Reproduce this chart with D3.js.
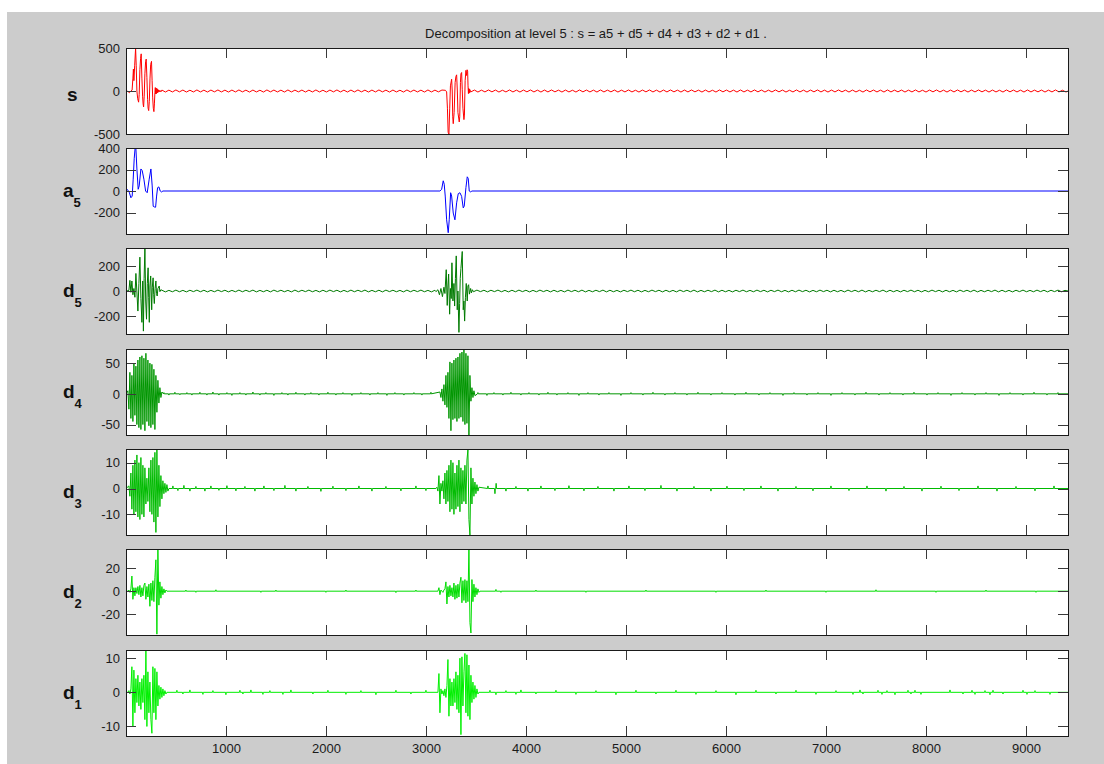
<html>
<head>
<meta charset="utf-8">
<script src="https://d3js.org/d3.v7.min.js"></script>
<style>
body { margin: 0; background: white; }
text { font-family: "Liberation Sans", Arial, sans-serif; }
</style>
</head>
<body>
<svg id="svg"></svg>
<script>

// ---- data (sample index, value) ----
var xMax = 9420;
var xTicks = [1000, 2000, 3000, 4000, 5000, 6000, 7000, 8000, 9000];

// s
var sBurst1 = [[1,0],[20,-5],[35,-20],[50,0],[62,10],[70,150],[75,255],[80,120],[88,300],[97,500],[103,300],[110,0],[118,-90],[127,-130],[133,-40],[140,250],[147,380],[153,432],[160,150],[167,-60],[172,-150],[177,-185],[183,-60],[190,200],[197,340],[203,371],[210,160],[217,-100],[222,-200],[228,-228],[234,-120],[241,150],[248,310],[256,345],[262,120],[268,-80],[274,-200],[280,-240],[285,-150],[290,-20],[294,40],[298,-35],[302,35],[306,-30],[310,28],[314,-22],[318,20],[322,-15],[327,12],[333,-10],[340,8],[350,-10]];
var sRipple1 = [11,-12,10,-11,12,-10,11,-12,9,-11,12,-11,10,-12,11,-10,12,-11,10,-12,
  11,-11,12,-10,10,-12,11,-11,9,-12,12,-10,11,-11,10,-12,12,-11,10,-10,
  11,-12,10,-11,12,-11,9,-12,11,-10,12,-11,10,-12,11,-11,12,-10,10,-12,
  11,-11,12,-10,10,-12,11,-11,9,-12,12,-10,11,-11,10,-12,12,-11,10,-10,
  11];
var sBurst2 = [[3195,8],[3207,-10],[3215,-200],[3222,-480],[3230,-500],[3238,-200],[3245,60],[3257,137],[3263,0],[3268,-300],[3273,-380],[3282,-250],[3292,100],[3300,170],[3307,188],[3314,0],[3320,-250],[3333,-360],[3338,-300],[3345,100],[3350,200],[3357,215],[3363,20],[3370,-200],[3380,-333],[3385,-280],[3392,120],[3400,240],[3407,180],[3412,247],[3417,230],[3421,60],[3425,-30],[3428,30],[3431,-25],[3434,22],[3437,-18],[3440,15],[3445,-10]];
var sRipple2 = [-10,11,-12,10,-11,12,-10,11,-12,9,-11,12,-11,10,-12,11,-10,12,-11,10,
  -12,11,-11,12,-10,10,-12,11,-11,9,-12,12,-10,11,-11,10,-12,12,-11,10,
  -10,11,-12,10,-11,12,-11,9,-12,11,-10,12,-11,10,-12,11,-11,12,-10,10,
  -12,11,-11,12,-10,10,-12,11,-11,9,-12,12,-10,11,-11,10,-12,12,-11,10,
  -11,12,-10,11,-12,10,-11,12,-10,11,-12,9,-11,12,-11,10,-12,11,-10,12,
  -11,10,-12,11,-11,12,-10,10,-12,11,-11,9,-12,12,-10,11,-11,10,-12,12,
  -11,10,-10,11,-12,10,-11,12,-11,9,-12,11,-10,12,-11,10,-12,11,-11,12,
  -10,10,-12,11,-11,12,-10,10,-12,11,-11,9,-12,12,-10,11,-11,10,-12,12,
  -11,10,-10,11,-12,10,-11,12,-11,9,-12];

// a5
var a5Burst1 = [[1,0],[13,15],[33,-10],[50,-63],[63,-47],[73,110],[83,300],[93,410],[100,395],[110,205],[123,16],[133,47],[150,205],[163,190],[180,110],[197,0],[213,-16],[233,110],[250,205],[263,47],[273,-142],[283,-148],[297,-151],[307,-47],[317,31],[330,38],[343,0],[357,-9],[370,0]];
var a5Burst2 = [[3140,0],[3157,15],[3173,95],[3183,63],[3193,-47],[3207,-268],[3223,-388],[3233,-268],[3247,-16],[3257,-47],[3273,-205],[3290,-268],[3307,-110],[3323,-25],[3340,-16],[3357,-50],[3373,-157],[3383,-140],[3400,31],[3413,132],[3423,117],[3433,0],[3447,-10],[3457,0],[9420,0]];

// d5
var d5Burst1 = [[1,0],[10,0],[30,5],[40,85],[50,-10],[60,80],[70,-30],[80,20],[90,-50],[100,140],[112,-40],[120,-160],[130,60],[140,270],[150,-60],[160,-250],[168,80],[175,-320],[182,100],[190,340],[198,-80],[206,-225],[214,60],[222,185],[228,-50],[234,-250],[240,40],[248,120],[254,-40],[258,-150],[264,30],[272,105],[278,-30],[284,-100],[292,20],[300,80],[306,-20],[313,-40],[320,20],[333,40],[340,-5],[350,10]];
var d5Ripple1 = [6,-7,5,-6,7,-6,5,-7,6,-5,7,-6,6,-7,5,-6,7,-5,6,-7,
  5,-6,7,-6,6,-5,7,-7,5,-6,6,-7,7,-5,6,-6,5,-7,7,-6,
  6,-5,7,-6,5,-7,6,-6,7,-5,6,-7,5,-6,7,-6,6,-5,7,-7,
  5,-6,6,-7,7,-5,6,-6,5,-7,7,-6,6,-5,7,-6,5,-7,6];
var d5Burst2 = [[3100,-5],[3120,10],[3135,-30],[3150,20],[3165,-45],[3180,30],[3190,-20],[3203,170],[3213,-115],[3220,40],[3227,135],[3237,-185],[3245,20],[3253,-60],[3260,225],[3270,-80],[3280,60],[3287,-120],[3295,100],[3303,280],[3313,-150],[3320,0],[3330,-330],[3337,-100],[3343,100],[3350,180],[3363,315],[3373,-150],[3380,-80],[3387,-240],[3395,-50],[3403,60],[3413,-80],[3420,40],[3427,50],[3435,-25],[3447,20],[3455,-15],[3465,10]];
var d5Ripple2 = [-6,7,-5,6,-7,6,-5,7,-6,5,-7,6,-6,7,-5,6,-7,5,-6,7,
  -5,6,-7,6,-6,5,-7,7,-5,6,-6,7,-7,5,-6,6,-5,7,-7,6,
  -6,5,-7,6,-5,7,-6,6,-7,5,-6,7,-5,6,-7,6,-6,5,-7,7,
  -5,6,-6,7,-7,5,-6,6,-5,7,-7,6,-6,5,-7,6,-5,7,-6,5,
  -6,7,-5,6,-7,6,-5,7,-6,5,-7,6,-6,7,-5,6,-7,5,-6,7,
  -5,6,-7,6,-6,5,-7,7,-5,6,-6,7,-7,5,-6,6,-5,7,-7,6,
  -6,5,-7,6,-5,7,-6,6,-7,5,-6,7,-5,6,-7,6,-6,5,-7,7,
  -5,6,-6,7,-7,5,-6,6,-5,7,-7,6,-6,5,-7,6,-5,7,-6,5,
  -6,7,-5,6,-7,6,-5,7,-6,5];

// d4 (values every 10 samples inside the bursts)
var d4Burst1 = [5,-25,35,-40,30,-45,50,-35,45,-50,55,-55,60,-58,62,-50,58,-60,66,-45,
  55,-52,50,-55,48,-50,40,-58,30,-30,22,-15,10,-6,3];
var d4Burst2 = [3,-6,8,-12,15,-18,30,-22,35,-40,52,-60,50,-42,55,-40,58,-45,60,-40,
  66,-38,68,-45,73,-50,66,-48,62,-67,30,-12,10,-6,5,-3];
var d4Blips = [[380,2],[430,-2],[490,2.5],[540,-1.5],[610,2],[660,-2],[740,2.5],[810,-2],[870,3],[930,-2],[1010,2],[1060,-2.5],[1140,2],[1200,-2],[1270,3],[1340,-2],[1400,2],[1480,-2.5],[1560,2],[1620,-2],[1700,2.5],[1790,-2],[1850,2],[1930,-2],[2020,2.5],[2100,-2],[2170,2],[2260,-2.5],[2350,2],[2440,-2],[2520,2],[2610,-2.5],[2690,2],[2780,-2],[2880,2],[2960,-2],[3050,2.5],
  [3520,2],[3610,-2.5],[3680,2],[3770,-2],[3850,2.5],[3950,-2],[4030,2],[4130,-2],[4220,2.5],[4310,-2],[4420,2],[4530,-2.5],[4620,2],[4730,-2],[4830,2],[4950,-2.5],[5050,2],[5170,-2],[5270,2.5],[5390,-2],[5490,2],[5610,-2],[5720,2.5],[5850,-2],[5960,2],[6090,-2],[6200,2.5],[6330,-2],[6440,2],[6570,-2.5],[6680,2],[6810,-2],[6920,2],[7050,-2.5],[7160,2],[7290,-2],[7400,2.5],[7530,-2],[7640,2],[7770,-2],[7880,2.5],[8010,-2],[8120,2],[8250,-2.5],[8360,2],[8490,-2],[8600,2],[8730,-2.5],[8840,2],[8970,-2],[9080,2.5],[9210,-2],[9320,2]];

// d3
var d3Burst1 = [1,-3,6,-8,9,-10,11,-9,13,-11,10,-12,12,-10,9,-11,8,-6,4,-5,
  8,-9,11,-10,12,-13,14,-17,15,-11,9,-7,5,-4,3,-2,2,-1.5,1.5,-1,0];
var d3Burst2 = [0,0.5,-1,5,-6,2,-1,3,-4,6,-6,7,-5,9,-9,11,-8,10,-10,6,
  -8,9,-7,11,-9,8,-6,7,-5,9,-6,11,15,-12,-18,8,-6,4,-3,2.5,-2,1.5,-1,0.5];
var d3Blips = [[470,1],[520,-0.8],[580,1.2],[640,-1],[700,0.8],[790,-1],[850,1],[930,-0.7],[1010,1.1],[1100,-0.9],[1190,0.8],[1290,-1],[1380,1],[1480,-0.8],[1590,1.2],[1700,-1],[1820,0.8],[1950,-1.1],[2070,0.9],[2200,-0.8],[2330,1],[2460,-1],[2600,0.8],[2750,-0.9],[2900,1],[3000,-0.8],
  [3620,1],[3690,-2],[3702,2],[3800,-1],[3900,0.8],[4020,-1],[4150,1],[4290,-0.8],[4430,1.1],[4580,-0.9],[4720,0.8],[4880,-1],[5030,1],[5190,-0.8],[5350,1.2],[5510,-1],[5680,0.8],[5850,-1],[6010,0.9],[6180,-0.8],[6350,1],[6520,-1],[6700,0.8],[6870,-0.9],[7050,1],[7230,-0.8],[7410,1],[7600,-1],[7780,0.8],[7960,-1],[8150,0.9],[8330,-0.8],[8520,1],[8710,-1],[8900,0.8],[9090,-0.9],[9280,1]];

// d2
var d2Burst1 = [0,1,-1,2,13,-7,3,-4,3,-2,4,-3,5,-5,3,-4,5,7,-7,4,
  -5,6,-13,7,-8,9,-9,12,27,-37,37,-12,8,-6,4,-3,2,-1.5,1,0];
var d2Burst2 = [0,3,-3,1,0,-1,1,2,8,-11,4,-5,5,-4,3,-5,7,-7,5,-6,
  6,-5,7,12,-10,9,-8,10,-10,9,-9,37,-27,-36,10,-9,6,-5,3,-3,2,-1,0];
var d2Blips = [[600,1],[700,-1],[900,1.2],[1350,-1],[1500,1],[2000,-1],[2200,1],[2700,-1.2],[2900,1],[3700,1.5],[3750,-1],[4100,1],[4600,-1],[5200,1],[5900,-1],[6400,1],[7000,-1],[7500,1.2],[8100,-1],[8600,1],[9100,-1]];

// d1
var d1Burst1 = [0,0.5,-0.5,1,7.5,-10,6.5,-6,4,-3,5,-4,3,-5,4,-3,5,-8,12.3,-10,
  6,-6,3,-8,-12,7.5,-6,7,-8,6,-4,2,-2,1.5,-1.5,1,-1,0.5,-0.5,0];
var d1Burst2 = [0,5.5,-6,1,-0.5,0.5,-1,1,-1.5,2,9.6,-7,4,-4,3,-4,4,-3,6,-5,
  5,-6,10,-12.4,10.4,-4,6,11.4,-6,11,-7,8,-8,5,-3,3,-2,2,-1.5,1,-0.5,0];
var d1Blips = [[510,0.6],[570,-0.5],[640,0.7],[770,-0.6],[870,0.5],[1000,-0.7],[1140,0.6],[1170,-0.5],[1250,0.7],[1370,-0.6],[1440,0.5],[1570,-0.6],[1650,0.7],[1870,-0.5],[2020,0.6],[2200,-0.6],[2350,0.5],[2500,-0.7],[2700,0.6],[2850,-0.5],[3000,0.6],
  [3640,0.6],[3700,-0.7],[3800,0.5],[3900,-0.6],[3950,0.7],[4100,-0.5],[4300,0.6],[4500,-0.6],[4700,0.5],[4900,-0.7],[5100,0.6],[5300,-0.5],[5500,0.6],[5700,-0.6],[5900,0.5],[6100,-0.7],[6300,0.6],[6500,-0.5],[6700,0.6],[6900,-0.6],[7100,0.5],[7270,-0.6],[7340,0.7],[7370,-0.5],[7520,0.6],[7560,-0.6],[7610,0.5],[7690,-0.7],[7820,0.6],[7850,-0.5],[7890,0.6],[7950,-0.6],[8240,0.7],[8370,-0.5],[8460,0.6],[8490,-0.6],[8590,0.5],[8640,-0.7],[8670,0.6],[8770,-0.5],[8970,0.6],[9010,-0.6],[9090,0.5],[9240,-0.6]];

// ---- helpers to turn the lists into (x,y) points ----
function seq(start, step, vals) { return vals.map(function(v, i) { return [start + i * step, v]; }); }
function blips(list) {
	var out = [];
	list.forEach(function(b) { out.push([b[0] - 4, 0], [b[0], b[1]], [b[0] + 4, 0]); });
	return out;
}
function series(parts) {
	var pts = [].concat.apply([], parts);
	pts.sort(function(a, b) { return a[0] - b[0]; });
	return pts;
}

var panels = [
	{name: "s", sub: "", color: "#ff0000", dom: [-500, 500], ticks: [-500, 0, 500],
	 data: series([sBurst1, seq(360, 35, sRipple1), sBurst2, seq(3450, 35, sRipple2), [[xMax, 0]]])},
	{name: "a", sub: "5", color: "#0000ff", dom: [-400, 400], ticks: [-200, 0, 200, 400],
	 data: series([a5Burst1, a5Burst2])},
	{name: "d", sub: "5", color: "#007a00", dom: [-343, 343], ticks: [-200, 0, 200],
	 data: series([d5Burst1, seq(360, 35, d5Ripple1), d5Burst2, seq(3475, 35, d5Ripple2), [[xMax, 0]]])},
	{name: "d", sub: "4", color: "#009600", dom: [-67, 73], ticks: [-50, 0, 50],
	 data: series([[[1, 0]], seq(20, 10, d4Burst1), blips(d4Blips), seq(3140, 10, d4Burst2), [[xMax, 0]]])},
	{name: "d", sub: "3", color: "#00bb00", dom: [-18, 15.3], ticks: [-10, 0, 10],
	 data: series([[[1, 0]], seq(30, 10, d3Burst1), blips(d3Blips), seq(3100, 10, d3Burst2), [[xMax, 0]]])},
	{name: "d", sub: "2", color: "#00dd00", dom: [-37.7, 36.3], ticks: [-20, 0, 20],
	 data: series([[[1, 0]], seq(20, 10, d2Burst1), blips(d2Blips), seq(3120, 10, d2Burst2), [[xMax, 0]]])},
	{name: "d", sub: "1", color: "#00f000", dom: [-12.8, 12.4], ticks: [-10, 0, 10],
	 data: series([[[1, 0]], seq(20, 10, d1Burst1), blips(d1Blips), seq(3120, 10, d1Burst2), [[xMax, 0]]])}
];

// ---- layout ----
var W = 1104, H = 764;
var left = 126, right = 1068;
var tops = [48, 148, 248, 349, 449, 549, 650];
var ph = 86;
var plain = function(d) { return String(d); };   // matlab style "-500", no unicode minus

var svg = d3.select("#svg").attr("width", W).attr("height", H);
svg.append("rect").attr("width", W).attr("height", H).attr("fill", "white");
svg.append("rect").attr("x", 7).attr("y", 12).attr("width", W - 7).attr("height", H - 12).attr("fill", "#cccccc");

svg.append("text")
	.attr("x", 596).attr("y", 38)
	.attr("text-anchor", "middle")
	.style("font-size", "13px").style("fill", "#1a1a1a")
	.text("Decomposition at level 5 : s = a5 + d5 + d4 + d3 + d2 + d1 .");

var x = d3.scaleLinear().domain([1, xMax]).range([left, right]);

panels.forEach(function(p, i) {
	var top = tops[i];
	var y = d3.scaleLinear().domain(p.dom).range([top + ph, top]);
	var g = svg.append("g");

	g.append("rect")
		.attr("x", left).attr("y", top).attr("width", right - left).attr("height", ph)
		.attr("fill", "white");

	g.append("clipPath").attr("id", "clip" + i)
		.append("rect").attr("x", left).attr("y", top).attr("width", right - left).attr("height", ph);

	var line = d3.line().x(function(d) { return x(d[0]); }).y(function(d) { return y(d[1]); });
	g.append("path")
		.attr("d", line(p.data))
		.attr("clip-path", "url(#clip" + i + ")")
		.attr("fill", "none")
		.attr("stroke", p.color)
		.attr("stroke-width", 1);

	// ticks on all four sides, pointing in
	var yl = g.append("g").attr("transform", "translate(" + left + ",0)")
		.call(d3.axisLeft(y).tickValues(p.ticks).tickSize(-10).tickPadding(6).tickFormat(plain));
	var yr = g.append("g").attr("transform", "translate(" + right + ",0)")
		.call(d3.axisRight(y).tickValues(p.ticks).tickSize(-10).tickFormat(""));
	var xt = g.append("g").attr("transform", "translate(0," + top + ")")
		.call(d3.axisTop(x).tickValues(xTicks).tickSize(-10).tickFormat(""));
	var xb = g.append("g").attr("transform", "translate(0," + (top + ph) + ")")
		.call(d3.axisBottom(x).tickValues(xTicks).tickSize(-10).tickPadding(8)
			.tickFormat(i == panels.length - 1 ? plain : ""));

	[yl, yr, xt, xb].forEach(function(a) {
		a.select(".domain").remove();
		a.selectAll(".tick line").attr("stroke", "#3a3a3a").attr("shape-rendering", "crispEdges");
		a.selectAll(".tick text").style("font-size", "13px").style("fill", "#1a1a1a")
			.style("font-family", "'Liberation Sans', Arial, sans-serif");
	});

	g.append("rect")
		.attr("x", left).attr("y", top).attr("width", right - left).attr("height", ph)
		.attr("fill", "none").attr("stroke", "#1a1a1a").attr("shape-rendering", "crispEdges");

	// row label
	var cy = top + ph / 2;
	var lab = g.append("text")
		.attr("x", p.sub ? 63 : 67)
		.attr("y", p.sub ? cy + 5.5 : cy + 9.5)
		.style("font-size", "19px").style("font-weight", "bold").style("fill", "#111");
	lab.append("tspan").text(p.name);
	if (p.sub) {
		lab.append("tspan").attr("dy", 10).style("font-size", "13px").text(p.sub);
	}
});

</script>
</body>
</html>
